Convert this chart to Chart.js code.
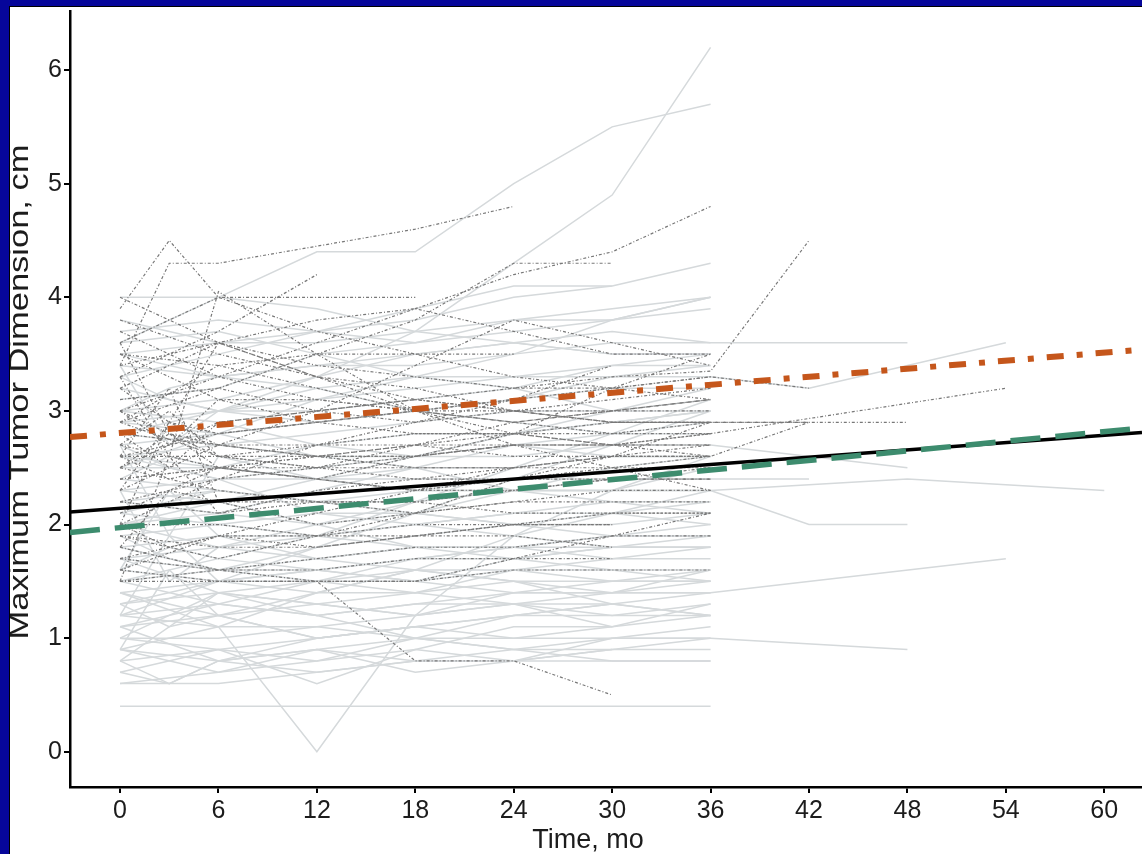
<!DOCTYPE html>
<html>
<head>
<meta charset="utf-8">
<script src="https://cdn.jsdelivr.net/npm/chart.js@4.4.0/dist/chart.umd.min.js"></script>
<style>
  html, body { margin: 0; padding: 0; background: #06069a; width: 1142px; height: 854px; overflow: hidden; }
  #frame { position: absolute; left: 9px; top: 6px; width: 1132px; height: 847px; background: #fff;
           border-left: 1px solid #000; border-top: 1px solid #000; }
  canvas { position: absolute; left: 0; top: 0; }
</style>
</head>
<body>
<div id="frame"><canvas id="chart" width="1132" height="847"></canvas></div>
<script>
// visit schedule (months) shared by every patient trajectory
const visitMonths = [0, 3, 6, 12, 18, 24, 30, 36, 42, 48, 54, 60];
const xTicks = [0, 6, 12, 18, 24, 30, 36, 42, 48, 54, 60];
const yTicks = [0, 1, 2, 3, 4, 5, 6];

// individual patients, light grey solid lines (cm at each visit, null = no visit)
const greySeries = [
  [3.0, null, 3.1, 3.3, 3.7, 4.3, 4.9, 6.2],
  [3.6, null, 4.0, 4.4, 4.4, 5.0, 5.5, 5.7],
  [0.4, null, 0.4, 0.4, 0.4, 0.4, 0.4, 0.4],
  [1.4, null, 1.1, 0.0, 1.2, 1.9, 2.3, 2.6],
  [3.5, null, 3.3, 3.4, 3.4, 3.5, 3.6, 3.6, null, 3.6],
  [3.2, null, 3.0, 3.1, 3.2, 3.3, 3.3, 3.3, 3.2, null, 3.6],
  [2.8, null, 2.7, 2.6, 2.6, 2.6, 2.7, 2.7, null, 2.5],
  [2.5, null, 2.5, 2.4, 2.4, 2.4, 2.4, 2.4, 2.4],
  [2.6, null, 2.5, 2.4, 2.3, 2.3, 2.3, 2.3, null, 2.4, null, 2.3],
  [2.2, null, 2.3, 2.2, 2.3, 2.3, 2.3, 2.3, 2.0, 2.0],
  [1.3, null, 1.4, 1.3, 1.2, 1.3, 1.4, 1.4, null, null, 1.7],
  [1.2, null, 1.1, 1.1, 1.0, 1.0, 1.0, 1.0, null, 0.9],
  [3.5, null, 3.6, 3.7, 3.8, 4.0, 4.1, 4.3],
  [3.7, null, 3.8, 3.7, 3.6, 3.8, 3.8, 4.0],
  [4.0, null, 4.0, 3.9, 3.7, 3.6, 3.5, 3.5],
  [0.6, 0.6, 0.8, 0.9, 1.0, 0.9, 0.8, 0.8],
  [0.7, null, 0.9, 0.6, 0.9, 1.1, 1.1, 1.2],
  [0.8, null, 1.4, 1.2, 1.0, 0.9, 0.9, 0.9],
  [0.9, null, 0.7, 0.8, 1.0, 1.2, 1.3, 1.2],
  [1.0, null, 1.0, 1.1, 1.2, 1.4, 1.5, 1.5],
  [1.1, null, 1.2, 1.3, 1.2, 1.3, 1.1, 1.3],
  [1.2, null, 1.3, 1.2, 1.3, 1.4, 1.4, 1.6],
  [1.3, null, 1.5, 1.6, 1.5, 1.7, 1.8, 1.8],
  [1.4, null, 1.5, 1.5, 1.4, 1.6, 1.6, 1.5],
  [1.5, null, 1.6, 1.8, 1.9, 2.0, 2.0, 2.1],
  [1.6, null, 1.5, 1.4, 1.6, 1.5, 1.3],
  [1.7, null, 1.6, 1.7, 1.8, 1.8, 1.9, 2.0],
  [1.8, null, 1.9, 1.9, 2.0, 2.1, 2.2, 2.2],
  [1.9, null, 2.0, 2.1, 2.1, 2.3, 2.3, 2.5],
  [2.0, null, 2.1, 2.0, 2.1, 2.0, 2.1, 2.0],
  [2.1, null, 2.0, 1.9, 1.8, 1.8, 1.7, 1.8],
  [2.3, null, 2.4, 2.5, 2.6, 2.7, 2.8, 2.9],
  [2.4, null, 2.3, 2.2, 2.1, 2.0, 1.9],
  [2.7, null, 2.8, 2.9, 3.0, 3.1, 3.3, 3.4],
  [2.9, null, 3.0, 3.0, 3.1, 3.2, 3.4, 3.5],
  [3.1, null, 3.2, 3.5, 3.6, 3.7, 3.8, 3.9],
  [3.3, null, 3.5, 3.7, 3.9, 4.1, 4.1],
  [3.4, null, 3.3, 3.2, 3.0, 2.9, 2.8, 2.8],
  [2.9, null, 2.8, 2.6, 2.5, 2.3, 2.2, 2.1],
  [2.6, null, 2.7, 2.8, 2.9, 3.0, 3.0, 3.1],
  [0.6, null, 0.7, 0.9, 0.8, 0.8, 1.0, 1.1],
  [1.0, null, 0.9, 0.8, 0.9, 0.8, 0.8, 0.8],
  [1.5, null, 1.3, 1.2, 1.3, 1.3, 1.2, 1.2],
  [1.8, null, 1.6, 1.5, 1.5, 1.4, 1.4, 1.4],
  [2.0, null, 1.8, 1.7, 1.6, 1.6, 1.5, 1.5],
  [2.2, null, 2.1, 2.3, 2.5, 2.7, 2.6, 2.6],
  [3.0, null, 2.9, 2.7, 2.6, 2.8, 2.9, 3.0],
  [1.1, null, 0.8, 0.9, 0.7, 0.8, 0.9, 1.0],
  [0.9, null, 1.1, 1.4, 1.6, 1.9, 2.1, 2.3],
  [1.7, null, 1.8, 2.0, 2.2, 2.3, 2.5, 2.6],
  [3.6, null, 3.7, 3.5, 3.3, 3.2, 3.0, 3.0],
  [2.8, null, 3.0, 3.3, 3.5, 3.6, 3.5, 3.5],
  [1.2, null, 1.5, 1.8, 2.1, 2.4, 2.7, 3.0],
  [2.3, null, 2.2, 2.0, 1.8, 1.7, 1.6, 1.6],
  [0.8, 0.6, 0.6, 0.7, 0.8, 0.9, 1.0, 1.0],
  [0.7, 0.6, 0.8, 1.0, 1.1, 1.2, 1.2, 1.3],
  [1.0, 1.2, 1.4, 1.5, 1.7, 1.8, 1.9, 1.9],
  [1.3, 1.1, 1.2, 1.4, 1.4, 1.5, 1.5, 1.6],
  [1.6, 1.8, 1.7, 1.6, 1.5, 1.6, 1.7, 1.7],
  [1.9, 1.7, 1.6, 1.6, 1.7, 1.8, 1.8, 1.9],
  [2.1, 2.2, 2.3, 2.2, 2.2, 2.3, 2.4, 2.4],
  [2.4, 2.6, 2.5, 2.7, 2.8, 2.8, 2.9, 3.0],
  [2.7, 2.5, 2.4, 2.4, 2.5, 2.5, 2.6, 2.6],
  [3.0, 3.2, 3.3, 3.4, 3.5, 3.6, 3.7, 3.6],
  [3.3, 3.1, 3.0, 2.9, 3.0, 3.1, 3.2, 3.2],
  [3.8, 3.7, 3.6, 3.6, 3.7, 3.8, 3.9, 4.0],
  [0.8, null, 0.9, 1.0, 1.1, 1.0, 1.1],
  [1.4, null, 1.2, 1.0, 1.1, 1.2, 1.3, 1.4],
  [1.1, null, 1.3, 1.5, 1.6, 1.5, 1.4, 1.5],
  [2.0, null, 2.2, 2.4, 2.6, 2.8, 3.0, 3.2],
  [1.5, null, 1.7, 1.9, 2.2, 2.5, 2.8, 3.1],
  [2.5, null, 2.8, 3.1, 3.3, 3.5, 3.8, 4.0],
  [0.9, null, 0.8, 0.7, 0.8, 0.8, 0.9],
  [1.7, null, 1.4, 1.3, 1.4, 1.3, 1.3, 1.2],
  [2.6, null, 2.4, 2.1, 2.0, 1.9, 1.8, 1.8],
  [1.2, 1.9, 2.6, 2.4, 2.3, 2.4],
  [2.7, 1.9, 1.5, 1.6, 1.7, 1.7, 1.8, 1.8],
  [0.9, 1.6, 1.2, 1.0, 1.1],
  [2.3, 1.5, 1.8, 1.9, 2.0, 2.1, 2.1, 2.2],
  [3.4, 2.7, 3.0, 3.2, 3.3, 3.3, 3.4, 3.4],
  [1.6, 2.3, 1.9, 1.7, 1.8, 1.8, 1.9, 1.9]
];

// individual patients, dark grey dash-dot lines
const darkSeries = [
  [3.9, 4.5, 4.0, 3.7, 3.5, 3.3, 3.2, 3.1],
  [3.4, 4.3, 4.3, 4.45, 4.6, 4.8],
  [3.0, null, 3.3, 3.6, 3.9, 4.2, 4.4, 4.8],
  [2.9, null, 3.2, 3.5, 3.8, 4.3, 4.3],
  [2.5, null, 2.9, 3.0, 3.1, 3.2, 3.3, 3.35, 4.5],
  [3.6, null, 4.0, 4.0, 4.0],
  [3.3, null, 3.7, 4.2],
  [4.0, null, 3.6, 3.3, 3.0, 2.8, 2.7, 2.7],
  [3.8, null, 3.5, 3.3, 3.2, 3.0, 2.9, 2.9, 2.9, 2.9],
  [2.4, null, 2.5, 2.6, 2.6, 2.7, 2.7, 2.8, null, null, 3.2],
  [1.5, 2.6, 4.05, 3.5, 3.0, 2.7, 2.5, 2.3],
  [2.1, null, 2.5, 2.4, 2.3, 2.3, 2.4, 2.5],
  [2.6, null, 2.6, 2.5, 2.5, 2.5, 2.5, 2.5],
  [2.8, null, 2.7, 2.7, 2.8, 2.8, 2.9, 2.9],
  [3.1, null, 3.2, 3.0, 2.9, 3.1, 3.2, 3.3],
  [2.5, null, 2.3, 2.2, 2.2, 2.1, 2.1, 2.1],
  [1.6, null, 1.5, 1.5, 1.5, 1.7, 1.9, 2.1],
  [1.9, null, 1.8, 1.8, 1.9, 1.9, 1.8],
  [1.7, null, 1.6, 1.6, 1.7, 1.7, 1.7],
  [1.5, null, 1.6, 1.5, 0.8, 0.8, 0.5],
  [2.0, null, 2.0, 1.9, 1.9, 2.0, 2.0],
  [2.4, null, 2.5, 2.4, 2.3, 2.5, 2.6, 2.7],
  [3.5, null, 3.4, 3.2, 3.0, 2.9, 3.0, 3.1],
  [2.7, null, 2.5, 2.4, 2.6, 2.8, 3.2, 3.5],
  [3.7, null, 3.3, 3.1, 3.0, 3.1, 3.4],
  [2.2, null, 2.1, 2.2, 2.1, 2.2, 2.3, 2.3],
  [1.5, null, 1.5, 1.5, 1.5, 1.6, 1.6, 1.6],
  [2.3, null, 2.7, 3.0, 3.4, 3.8, 3.6, 3.4],
  [2.9, null, 3.4, 3.5, 3.5, 3.5],
  [3.2, null, 3.6, 3.8, 3.9, 3.7, 3.5, 3.5],
  [2.0, null, 2.4, 2.7, 2.9, 3.0, 3.1, 3.2],
  [1.9, null, 1.7, 1.9, 2.1, 2.4, 2.6, 2.9, 2.9],
  [2.6, null, 2.8, 2.9, 3.0, 2.9, 2.8, 2.8],
  [3.0, 2.8, 2.7, 2.6, 2.5, 2.5, 2.6, 2.6, 2.9],
  [1.8, null, 1.6, 1.7, 1.8, 1.8, 1.9, 1.9],
  [2.8, 2.5, 2.9, 3.0, 3.1, 3.0, 3.0, 3.0],
  [2.5, 2.8, 2.6, 2.7, 2.7, 2.6, 2.6, 2.6],
  [2.3, 2.9, 2.7, 2.6, 2.7, 2.8, 2.8, 2.9],
  [3.0, 2.7, 3.1, 3.1, 3.0, 3.0, 2.9, 2.9],
  [2.7, 3.0, 2.6, 2.5, 2.4, 2.4, 2.4, 2.4],
  [1.8, 2.3, 2.2, 2.2, 2.2, 2.3, 2.4, 2.4],
  [3.5, null, 3.1, 2.9, 2.8, 2.8, 2.7, 2.6],
  [2.0, 1.8, 1.9, 1.9, 2.0, 2.0, 2.1, 2.1],
  [2.9, null, 2.6, 2.6, 2.7, 2.7, 2.7, 2.8],
  [1.6, null, 1.9, 2.1, 2.3, 2.4, 2.5, 2.6],
  [3.4, null, 3.6, 3.4, 3.3, 3.2, 3.2, 3.3, 3.2],
  [2.2, null, 2.4, 2.5, 2.7, 2.9, 3.0, 3.1],
  [1.7, null, 1.9, 1.8, 1.9, 2.0, 2.0],
  [3.2, 2.9, 2.8, 2.9, 3.0, 3.1],
  [2.6, 2.4, 2.5, 2.5, 2.6, 2.7, 2.7, 2.7],
  [2.0, 2.9, 3.6, 3.3, 3.1, 3.0, 2.9, 2.9],
  [3.3, 2.6, 2.1, 2.3, 2.4, 2.5],
  [2.6, 3.2, 2.2, 2.0, 2.1, 2.2, 2.2, 2.2],
  [3.6, 2.8, 2.5, 2.6, 2.6, 2.7]
];

// fitted trends, evaluated at both edges of the plot
const trendX = [-3.05, 62.3];
const fitOverall = [2.11, 2.81];
const fitUpper = [2.77, 3.54];
const fitLower = [1.93, 2.85];

const xMin = -3.05, xMax = 62.3, yMin = -0.31, yMax = 6.52;
const xTitle = 'Time, mo';
const yTitle = 'Maximum Tumor Dimension, cm';

const toPoints = (vals, xs) => vals
  .map((v, i) => v == null ? null : { x: xs[i], y: v })
  .filter(Boolean);

const datasets = [];
greySeries.forEach(s => datasets.push({
  data: toPoints(s, visitMonths), borderColor: '#d5d9db', borderWidth: 1.5, order: 5
}));
darkSeries.forEach(s => datasets.push({
  data: toPoints(s, visitMonths), borderColor: '#787878', borderWidth: 1.2,
  borderDash: [3, 2, 1, 2], order: 4
}));
datasets.push({ data: toPoints(fitOverall, trendX), borderColor: '#000', borderWidth: 3.5, order: 3 });
datasets.push({ data: toPoints(fitLower, trendX), borderColor: '#3d8c6e', borderWidth: 5.5,
  borderDash: [30, 15], order: 2 });
datasets.push({ data: toPoints(fitUpper, trendX), borderColor: '#c5561b', borderWidth: 6,
  borderDash: [17, 13, 6, 13], order: 1 });

const FONT = 'Liberation Sans, Arial, Helvetica, sans-serif';

// axis titles are drawn by hand so they sit where the original put them
const axisTitles = {
  id: 'axisTitles',
  afterDraw(chart) {
    const ctx = chart.ctx;
    ctx.save();
    ctx.fillStyle = '#1c1c1c';
    ctx.textAlign = 'center';
    ctx.textBaseline = 'middle';
    ctx.font = '27px ' + FONT;
    ctx.fillText(xTitle, 578, 834);
    const w = ctx.measureText(yTitle).width;
    ctx.translate(11, 385);
    ctx.rotate(-Math.PI / 2);
    ctx.scale(495 / w, 1);
    ctx.fillText(yTitle, 0, 0);
    ctx.restore();
  }
};

const noPad = s => { s.paddingTop = 0; s.paddingBottom = 0; s.paddingLeft = 0; s.paddingRight = 0; };

new Chart(document.getElementById('chart'), {
  type: 'line',
  data: { datasets },
  plugins: [axisTitles],
  options: {
    responsive: false,
    animation: false,
    devicePixelRatio: 1,
    layout: { padding: { top: 4, right: 0, left: 0, bottom: 0 } },
    elements: { point: { radius: 0 }, line: { tension: 0, fill: false, borderCapStyle: 'butt' } },
    plugins: { legend: { display: false }, tooltip: { enabled: false } },
    scales: {
      x: {
        type: 'linear', min: xMin, max: xMax,
        afterBuildTicks: s => { s.ticks = xTicks.map(v => ({ value: v })); },
        afterFit: s => { s.height = 67; noPad(s); },
        ticks: { color: '#1c1c1c', font: { family: FONT, size: 25 }, padding: 3, maxRotation: 0 },
        grid: { drawOnChartArea: false, drawTicks: true, tickLength: 6, color: '#000', lineWidth: 2 },
        border: { display: true, color: '#000', width: 2.5 }
      },
      y: {
        type: 'linear', min: yMin, max: yMax,
        afterBuildTicks: s => { s.ticks = yTicks.map(v => ({ value: v })); },
        afterFit: s => { s.width = 60; noPad(s); },
        ticks: { color: '#1c1c1c', font: { family: FONT, size: 25 }, padding: 2 },
        grid: { drawOnChartArea: false, drawTicks: true, tickLength: 6, color: '#000', lineWidth: 2 },
        border: { display: true, color: '#000', width: 2.5 }
      }
    }
  }
});
</script>
</body>
</html>
